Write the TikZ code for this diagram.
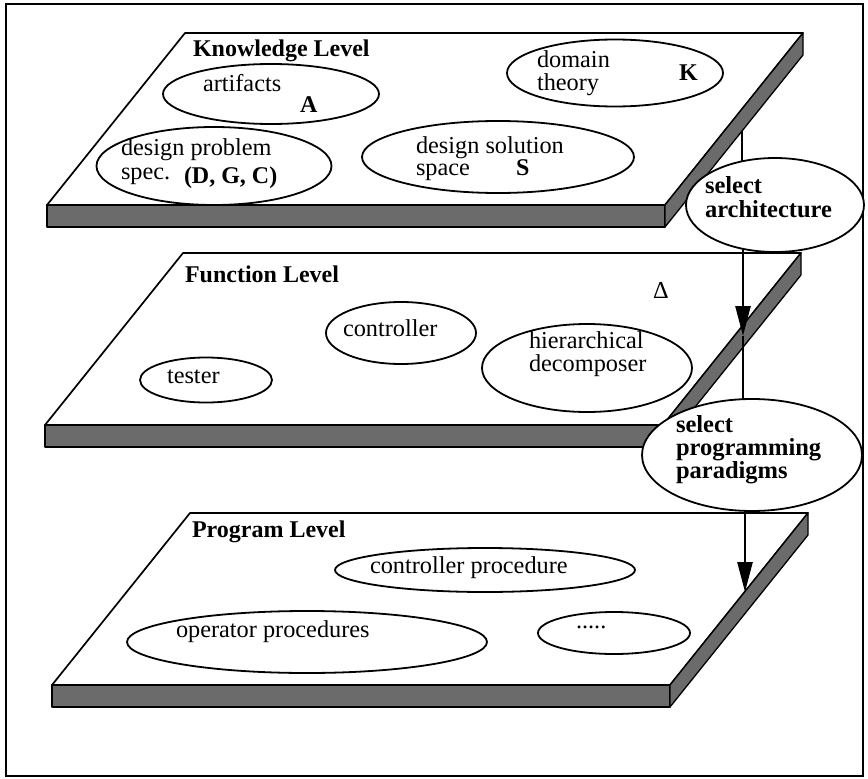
\documentclass[tikz,border=0pt]{standalone}
\usepackage{fontspec}
\setmainfont{Liberation Serif}
\usetikzlibrary{shapes.geometric,arrows.meta}
\pgfdeclarelayer{plates}
\pgfdeclarelayer{links}
\pgfsetlayers{plates,links,main}

% one level of the architecture: a slab seen in oblique view,
% given by its back-left corner
\newcommand\drawplate[2]{%
  \begin{pgfonlayer}{plates}
    \draw[topface] (#1,#2) -- ++(618,0) -- ++(-138,172) -- ++(-618,0) -- cycle;
    \draw[edgeface] (#1-138,#2+172) rectangle ++(618,22);
    \draw[edgeface] (#1+480,#2+172) -- (#1+618,#2) -- ++(0,22) -- (#1+480,#2+194) -- cycle;
  \end{pgfonlayer}}

\begin{document}
\begin{tikzpicture}[x=1pt,y=-1pt,
  every node/.style={inner sep=0pt, outer sep=0pt},
  txt/.style={anchor=base west, font=\fontsize{24.3}{24}\selectfont},
  btxt/.style={anchor=base west, font=\fontsize{24}{24}\selectfont\bfseries},
  stxt/.style={anchor=base west, font=\fontsize{24.5}{24}\selectfont\bfseries},
  blob/.style={ellipse, draw, fill=white, line width=1.8pt},
  topface/.style={draw, fill=white, line width=1.7pt, line join=round},
  edgeface/.style={draw, fill=black!58, line width=1.3pt, line join=round},
  conn/.style={line width=2.6pt},
  arrowed/.style={-{Triangle[length=30pt,width=15pt]}},
]
\useasboundingbox (0,0) rectangle (868,779);
\begin{pgfonlayer}{plates}
  \fill[white] (0,0) rectangle (868,779);
  \draw[line width=1.5pt] (6,4) rectangle (863,776);
\end{pgfonlayer}

% the three levels
\drawplate{185}{33}
\drawplate{183}{253}
\drawplate{190}{513}

% knowledge level
\node[btxt] (klab) at (193,56) {Knowledge Level};
\node[blob, minimum width=216pt, minimum height=60pt] (art) at (271,94) {};
\node[txt] (tart) at (203,91) {artifacts};
\node[btxt] (tA) at (300,112) {A};
\node[blob, minimum width=216pt, minimum height=67pt] (dom) at (615,73) {};
\node[txt] (tdom1) at (537,67) {domain};
\node[txt] (tdom2) at (537,90) {theory};
\node[btxt] (tK) at (679,80) {K};
\node[blob, minimum width=235pt, minimum height=78pt] (dps) at (214,166) {};
\node[txt] (tdps1) at (121,155) {design problem};
\node[txt] (tdps2) at (121,179) {spec.};
\node[btxt] (tdgc) at (184,183) {(D, G, C)};
\node[blob, minimum width=272pt, minimum height=72pt] (dss) at (498,157) {};
\node[txt] (tdss1) at (416,153) {design solution};
\node[txt] (tdss2) at (416,175) {space};
\node[btxt] (tS) at (516,175) {S};

% function level
\node[btxt] (flab) at (185,282) {Function Level};
\node[txt] (tdelta) at (653,298) {Δ};
\node[blob, minimum width=150pt, minimum height=62pt] (ctl) at (401,333) {};
\node[txt] (tctl) at (343,336) {controller};
\node[blob, minimum width=132pt, minimum height=45pt] (tst) at (206,380) {};
\node[txt] (ttst) at (167,383) {tester};
\node[blob, minimum width=210pt, minimum height=88pt] (hier) at (587,368) {};
\node[txt] (thier1) at (529,348) {hierarchical};
\node[txt] (thier2) at (529,371) {decomposer};

% program level
\node[btxt] (plab) at (192,537) {Program Level};
\node[blob, minimum width=300pt, minimum height=44pt] (cproc) at (485,570) {};
\node[txt] (tcproc) at (370,573) {controller procedure};
\node[blob, minimum width=360pt, minimum height=62pt] (oproc) at (307,642) {};
\node[txt] (toproc) at (176,637) {operator procedures};
\node[blob, minimum width=152pt, minimum height=42pt] (more) at (614,633) {};
\node[txt] (tmore) at (576,628) {.....};

% design decisions between the levels
\node[blob, minimum width=178pt, minimum height=94pt] (arch) at (775,205) {};
\node[stxt] (tarch1) at (705,193) {select};
\node[stxt] (tarch2) at (705,217) {architecture};
\node[blob, minimum width=220pt, minimum height=112pt] (para) at (752,455) {};
\node[stxt] (tpara1) at (676,432) {select};
\node[stxt] (tpara2) at (676,455) {programming};
\node[stxt] (tpara3) at (676,478) {paradigms};

% links through the slab edges
\coordinate (ks) at (742,131);
\coordinate (fs) at (743,336);
\coordinate (ps) at (745,592);
\begin{pgfonlayer}{links}
  \draw[conn] (ks) -- (ks |- arch.center);
  \draw[conn, arrowed] (fs |- arch.center) -- (fs);
  \draw[conn] (fs) -- (fs |- para.center);
  \draw[conn, arrowed] (ps |- para.center) -- (ps);
\end{pgfonlayer}
\end{tikzpicture}
\end{document}
